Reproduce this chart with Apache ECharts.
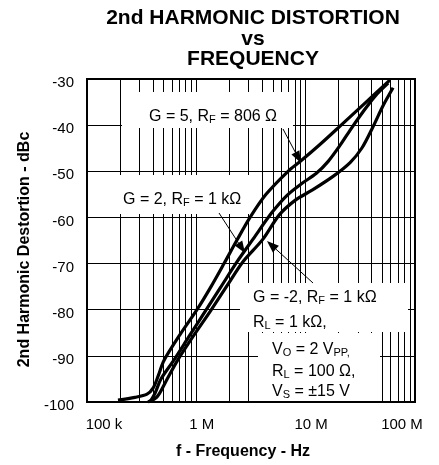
<!DOCTYPE html>
<html><head><meta charset="utf-8">
<script src="https://cdn.jsdelivr.net/npm/echarts@6/dist/echarts.min.js"></script>
<style>html,body{margin:0;padding:0;background:#fff}#c{width:439px;height:465px}</style>
</head><body><div id="c"></div>
<script>
// ---- tick labels ----
const xTickLabels = ['100 k', '1 M', '10 M', '100 M'];
const yMin = -100, yMax = -30, yStep = 10;

// ---- curve data (Hz, dBc) ----
const g5Freq = [192e3, 275e3, 354e3, 402e3, 447e3, 506e3, 709e3, 1.014e6, 1.363e6, 1.792e6, 2.355e6, 3.1e6, 4.34e6, 6.9e6, 8.89e6, 13.5e6, 21.1e6, 35.7e6, 59.2e6];
const g5Dbc  = [-99.6, -99.0, -98.3, -97.0, -94.4, -91.0, -85.4, -80.0, -75.0, -70.0, -64.9, -60.0, -55.0, -50.0, -47.9, -44.2, -40.0, -35.0, -30.2];

const g2Freq = [377e3, 419e3, 475e3, 612e3, 857e3, 1.2e6, 1.683e6, 2.36e6, 3.3e6, 4.93e6, 6.76e6, 9.27e6, 12.45e6, 16.0e6, 20.6e6, 26.0e6, 33.5e6, 43.2e6, 56.8e6];
const g2Dbc  = [-100, -98.1, -95.0, -91.2, -85.8, -80.4, -75.0, -69.6, -64.7, -58.9, -55.2, -52.6, -50.5, -47.9, -44.4, -40.8, -37.1, -33.7, -30.9];

const gm2Freq = [361e3, 437e3, 528e3, 665e3, 933e3, 1.335e6, 1.91e6, 2.67e6, 4.07e6, 5.71e6, 8.0e6, 11.44e6, 17.8e6, 25.5e6, 32.8e6, 41.4e6, 51e6, 63e6];
const gm2Dbc  = [-100, -98.9, -95.5, -91.2, -85.8, -80.4, -74.8, -69.6, -64.7, -59.5, -56.3, -54.1, -51.1, -48.1, -44.9, -40.3, -35.8, -31.9];

// ---- annotation texts ----
const annG5 = '{n|G = 5, R}{s|F}{n| = 806 Ω}';
const annG2 = '{n|G = 2, R}{s|F}{n| = 1 kΩ}';
const annGm2a = '{n|G = -2, R}{s|F}{n| = 1 kΩ}';
const annGm2b = '{n|R}{s|L}{n| = 1 kΩ,}';
const annC1 = '{n|V}{s|O}{n| = 2 V}{s|PP,}';
const annC2 = '{n|R}{s|L}{n| = 100 Ω,}';
const annC3 = '{n|V}{s|S}{n| = ±15 V}';

const FONT = '"Liberation Sans", Arial, Helvetica, sans-serif';
const pairs = (f, d) => f.map((v, i) => [v, d[i]]);
const minorFreqs = [];
[1e5, 1e6, 1e7].forEach(d => { for (let m = 2; m <= 9; m++) minorFreqs.push(m * d); });

const rich = {
  n: { fontSize: 16, fontFamily: FONT, fill: '#000', color: '#000', lineHeight: 20, verticalAlign: 'bottom' },
  s: { fontSize: 11, fontFamily: FONT, fill: '#000', color: '#000', lineHeight: 14, verticalAlign: 'bottom' }
};

function txt(x, y, text) {
  return { type: 'text', x: x, y: y, z: 20, style: { text: text, rich: rich, fill: '#000', textVerticalAlign: 'middle', textAlign: 'left' } };
}
function box(x, y, w, h) {
  return { type: 'rect', z: 15, shape: { x: x, y: y, width: w, height: h }, style: { fill: '#fff' } };
}
function arrow(x1, y1, x2, y2) {
  const dx = x2 - x1, dy = y2 - y1, L = Math.hypot(dx, dy);
  const ux = dx / L, uy = dy / L, len = 12, hw = 4.5;
  const bx = x2 - ux * len, by = y2 - uy * len;
  return [
    { type: 'line', z: 40, shape: { x1: x1, y1: y1, x2: bx, y2: by }, style: { stroke: '#000', lineWidth: 1 } },
    { type: 'polygon', z: 40, shape: { points: [[x2, y2], [bx - uy * hw, by + ux * hw], [bx + uy * hw, by - ux * hw]] }, style: { fill: '#000' } }
  ];
}

const chart = echarts.init(document.getElementById('c'));
const curveStyle = { color: '#000', width: 3.2 };
chart.setOption({
  animation: false,
  backgroundColor: '#fff',
  title: {
    text: '2nd HARMONIC DISTORTION\nvs\nFREQUENCY',
    left: 248, top: 3, textAlign: 'center',
    textStyle: { fontFamily: FONT, fontSize: 21, fontWeight: 'bold', color: '#000', lineHeight: 20.5 }
  },
  grid: { left: 87, right: 24, top: 79, bottom: 61, show: true, borderColor: '#000', borderWidth: 2, backgroundColor: 'transparent' },
  xAxis: {
    type: 'log', logBase: 10, min: 1e5, max: 1e8,
    name: 'f - Frequency - Hz', nameLocation: 'middle', nameGap: 42,
    nameTextStyle: { fontFamily: FONT, fontSize: 16, fontWeight: 'bold', color: '#000', padding: [0, 16, 0, 0] },
    axisLine: { show: false }, axisTick: { show: false },
    splitLine: { show: true, lineStyle: { color: '#000', width: 1 } },
    axisLabel: {
      margin: 15, color: '#000', fontFamily: FONT, fontSize: 15,
      formatter: function (v) {
        const i = Math.round(Math.log10(v)) - 5;
        const key = i === 0 ? 'a' : (i === 3 ? 'c' : 'b');
        return '{' + key + '|' + xTickLabels[i] + '}';
      },
      rich: {
        a: { fontSize: 15, fontFamily: FONT, color: '#000', padding: [0, 0, 0, 34] },
        b: { fontSize: 15, fontFamily: FONT, color: '#000', padding: [0, 0, 0, 11] },
        c: { fontSize: 15, fontFamily: FONT, color: '#000', padding: [0, 26, 0, 0] }
      }
    }
  },
  yAxis: {
    type: 'value', min: yMin, max: yMax, interval: yStep,
    name: '2nd Harmonic Destortion - dBc', nameLocation: 'middle', nameGap: 47,
    nameTextStyle: { fontFamily: FONT, fontSize: 16, fontWeight: 'bold', color: '#000', padding: [0, 18, 0, 0] },
    axisLine: { show: false }, axisTick: { show: false },
    splitLine: { show: true, lineStyle: { color: '#000', width: 1 } },
    axisLabel: {
      margin: 13, color: '#000', fontFamily: FONT, fontSize: 15,
      formatter: v => '{p|' + v + '}',
      rich: { p: { fontSize: 15, fontFamily: FONT, color: '#000', padding: [8, 0, 0, 0] } }
    }
  },
  series: [
    {
      type: 'line', data: [], z: 1, silent: true,
      markLine: {
        z: 1, silent: true, symbol: ['none', 'none'], label: { show: false },
        lineStyle: { color: '#000', width: 1, type: 'solid' },
        data: minorFreqs.map(f => ({ xAxis: f }))
      }
    },
    { name: 'G = 5', type: 'line', z: 30, showSymbol: false, smooth: 0.3, lineStyle: curveStyle, data: pairs(g5Freq, g5Dbc) },
    { name: 'G = 2', type: 'line', z: 30, showSymbol: false, smooth: 0.3, lineStyle: curveStyle, data: pairs(g2Freq, g2Dbc) },
    { name: 'G = -2', type: 'line', z: 30, showSymbol: false, smooth: 0.3, lineStyle: curveStyle, data: pairs(gm2Freq, gm2Dbc) }
  ],
  graphic: [
    box(122, 92, 171, 36), txt(149, 115, annG5),
    box(89, 175, 161, 39), txt(123, 198, annG2),
    box(240, 283, 168, 49), txt(253, 296, annGm2a), txt(253, 321, annGm2b),
    box(258, 333, 122, 68), txt(272, 348, annC1), txt(272, 370, annC2), txt(272, 390, annC3)
  ].concat(arrow(283, 129, 301, 163), arrow(219, 213, 245, 253), arrow(313, 283, 267, 241))
});
</script></body></html>
